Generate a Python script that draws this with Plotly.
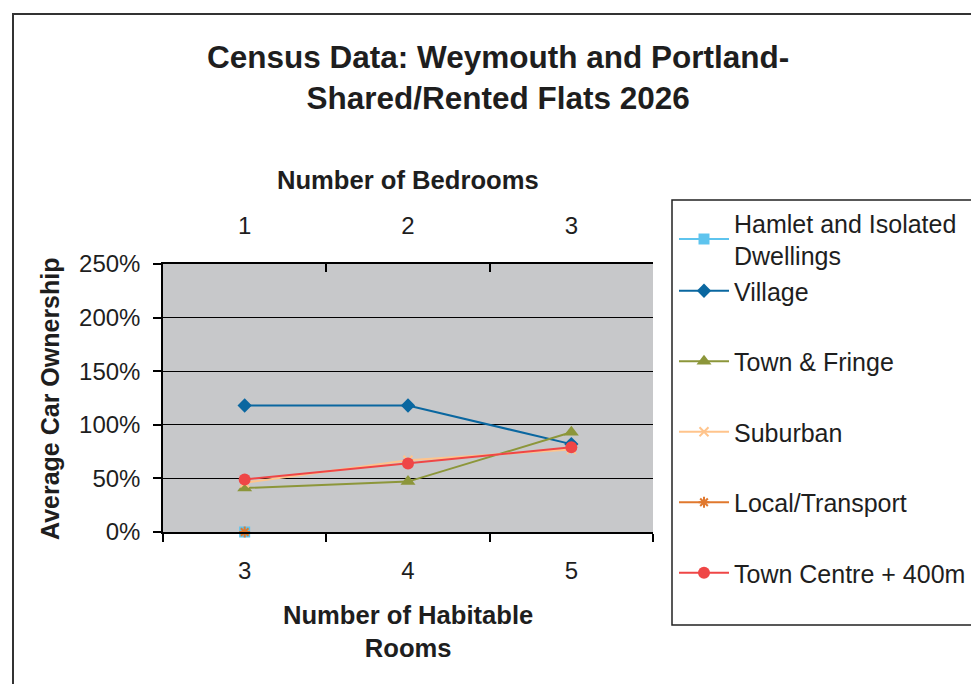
import plotly.graph_objects as go

# Category labels for the two x axes
habitable_rooms = ["3", "4", "5"]
bedrooms = ["1", "2", "3"]

# Average car ownership (fraction, 1.0 = 100%) per series; None = no data
hamlet = [0.0, None, None]
village = [1.18, 1.18, 0.82]
town_fringe = [0.41, 0.47, 0.93]
suburban = [0.46, 0.67, 0.77]
local_transport = [0.0, None, None]
town_centre = [0.49, 0.64, 0.79]

y_ticks = [0, 0.5, 1.0, 1.5, 2.0, 2.5]

FONT = "Liberation Sans, Arial, sans-serif"
TXT = "#1e1e1e"

fig = go.Figure()

series = [
    ("Hamlet and Isolated<br>Dwellings", hamlet, "#5EC4EE", "square", 11, "g1"),
    ("Village", village, "#0A67A0", "diamond", 11, "g1"),
    ("Town & Fringe", town_fringe, "#8C963A", "triangle-up", 13, "g2"),
    ("Suburban", suburban, "#FFC48C", "x-thin-open", 9, "g3"),
    ("Local/Transport", local_transport, "#E0782E", "asterisk-open", 9, "g4"),
    ("Town Centre + 400m", town_centre, "#EF4646", "circle", 12, "g5"),
]

for name, vals, color, symbol, size, group in series:
    fig.add_trace(go.Scatter(
        x=habitable_rooms, y=vals, name=name, mode="lines+markers",
        legendgroup=group, cliponaxis=False,
        line=dict(color=color, width=2),
        marker=dict(symbol=symbol, size=size, color=color,
                    line=dict(color=color, width=2 if "open" in symbol else 0)),
        xaxis="x", yaxis="y",
    ))

# Invisible carrier trace so the top (bedrooms) axis is drawn
fig.add_trace(go.Scatter(
    x=bedrooms, y=[None] * len(bedrooms), xaxis="x2", yaxis="y",
    showlegend=False, hoverinfo="skip", mode="markers",
))

W, H = 971, 684
L, R, T, B = 163, 0, 264, 152
pw, ph = W - L - R, H - T - B


def px(x):
    return (x - L) / pw


def py(y):
    return (H - B - y) / ph


dom_right = px(653)

fig.update_layout(
    width=W, height=H,
    margin=dict(l=L, r=R, t=T, b=B),
    paper_bgcolor="white",
    plot_bgcolor="#C7C8CA",
    font=dict(family=FONT, color=TXT, size=24),
    xaxis=dict(
        type="category", categoryorder="array", categoryarray=habitable_rooms,
        range=[-0.5, 2.5], domain=[0, dom_right],
        showgrid=False, showline=True, linecolor="black", linewidth=1.5,
        ticks="outside", ticklen=8, tickwidth=1.5, tickcolor="black",
        tickson="boundaries", ticklabelstandoff=16,
        tickfont=dict(size=24, color=TXT), zeroline=False,
    ),
    xaxis2=dict(
        type="category", categoryorder="array", categoryarray=bedrooms,
        range=[-0.5, 2.5], domain=[0, dom_right],
        overlaying="x", side="top", anchor="y",
        showgrid=False, showline=True, linecolor="black", linewidth=1.5,
        ticks="inside", ticklen=8, tickwidth=1.5, tickcolor="black",
        tickson="boundaries", ticklabelstandoff=19,
        tickfont=dict(size=24, color=TXT), zeroline=False,
    ),
    yaxis=dict(
        range=[0, 2.5], tickvals=y_ticks, tickformat=".0%",
        showgrid=True, gridcolor="black", gridwidth=1.2,
        showline=True, linecolor="black", linewidth=1.5,
        ticks="outside", ticklen=8, tickwidth=1.5, tickcolor="black",
        ticklabelstandoff=8, zeroline=False,
        tickfont=dict(size=24, color=TXT),
    ),
    legend=dict(
        x=px(674), y=py(200), xanchor="left", yanchor="top",
        bgcolor="rgba(0,0,0,0)", borderwidth=0,
        font=dict(size=25, color=TXT, family=FONT),
        tracegroupgap=35, itemwidth=50, traceorder="grouped",
        maxheight=600,
    ),
    showlegend=True,
)

# Outer chart frame
fig.add_shape(type="rect", xref="paper", yref="paper",
              x0=px(13), x1=px(1000), y0=py(14), y1=py(720),
              line=dict(color="#333333", width=2), fillcolor="rgba(0,0,0,0)",
              layer="below")

# Legend frame (runs past the right edge of the canvas)
fig.add_shape(type="rect", xref="paper", yref="paper",
              x0=px(672), x1=px(1000), y0=py(200), y1=py(625),
              line=dict(color="#222222", width=1.5), fillcolor="white",
              layer="below")

fig.add_annotation(
    text="<b>Census Data: Weymouth and Portland-<br>Shared/Rented Flats 2026</b>",
    xref="paper", yref="paper", x=px(498), y=py(77),
    xanchor="center", yanchor="middle", showarrow=False,
    font=dict(size=31.5, family=FONT, color=TXT),
)
fig.add_annotation(
    text="<b>Number of Bedrooms</b>",
    xref="paper", yref="paper", x=px(408), y=py(180),
    xanchor="center", yanchor="middle", showarrow=False,
    font=dict(size=25.6, family=FONT, color=TXT),
)
fig.add_annotation(
    text="<b>Number of Habitable<br>Rooms</b>",
    xref="paper", yref="paper", x=px(408), y=py(631),
    xanchor="center", yanchor="middle", showarrow=False,
    font=dict(size=25.6, family=FONT, color=TXT),
)
fig.add_annotation(
    text="<b>Average Car Ownership</b>",
    xref="paper", yref="paper", x=px(50), y=py(398),
    xanchor="center", yanchor="middle", showarrow=False, textangle=-90,
    font=dict(size=25, family=FONT, color=TXT),
)

fig.write_html("out.html")
